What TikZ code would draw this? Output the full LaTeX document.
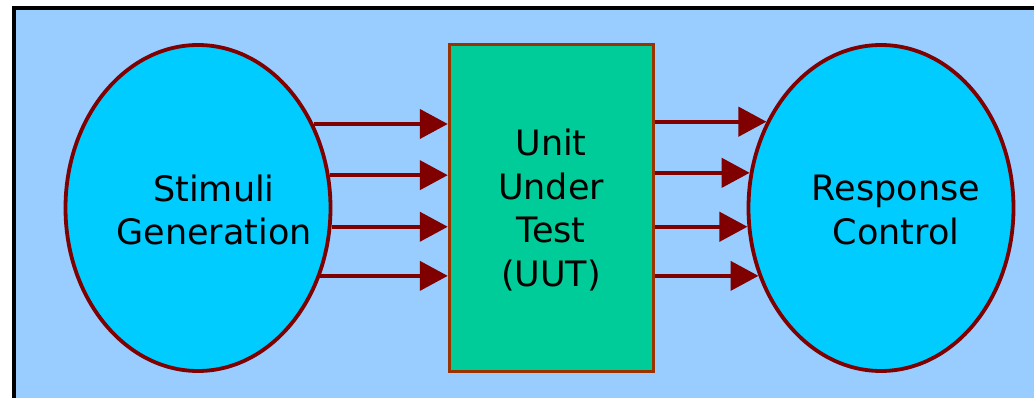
\documentclass[tikz,border=0pt]{standalone}
\usepackage{fontspec}
\setmainfont{DejaVu Sans}
\usetikzlibrary{shapes.geometric,arrows.meta}

\definecolor{panel}{HTML}{99CCFF}
\definecolor{blob}{HTML}{00CCFF}
\definecolor{uut}{HTML}{00CC99}
\definecolor{wine}{HTML}{800000}
\definecolor{rust}{HTML}{993300}

\tikzset{
  blobnode/.style={ellipse, draw=wine, fill=blob, line width=3.8pt,
    minimum width=265pt, minimum height=326pt, inner sep=0pt},
  uutbox/.style={rectangle, draw=rust, fill=uut, line width=3.4pt,
    minimum width=204pt, minimum height=327pt, inner sep=0pt},
  label/.style={align=center, font=\fontsize{35pt}{43.5pt}\selectfont, inner sep=0pt},
  flow/.style={draw=wine, line width=4.2pt,
    -{Triangle[length=28pt,width=29pt]}}
}

\begin{document}
\begin{tikzpicture}[x=1pt,y=-1pt]
  \useasboundingbox (0,0) rectangle (1034,398);

  % panel with a heavy frame on its top and left sides
  \fill[panel] (14,8) rectangle (1034,398);
  \draw[line width=4pt] (14,398) -- (14,8) -- (1034,8);

  % blocks
  \node[blobnode] (gen) at (198,208) {};
  \node[uutbox]   (dut) at (551.5,208) {};
  \node[blobnode] (rsp) at (881,208) {};

  % captions
  \node[label] (gentxt) at (214,210) {Stimuli\\Generation};
  \node[label] (duttxt) at (551,210) {Unit\\Under\\Test\\(UUT)};
  \node[label] (rsptxt) at (896,210) {Response\\Control};

  % stimulus lines into the unit
  \foreach \a in {36.5,14.1,-8.2,-29.5}
    \draw[flow] (gen.\a) -- (gen.\a -| dut.west);

  % response lines out of the unit
  \foreach \a in {143.5,165.9,188.2,209.5}
    \draw[flow] (dut.east |- rsp.\a) -- (rsp.\a);
\end{tikzpicture}
\end{document}
